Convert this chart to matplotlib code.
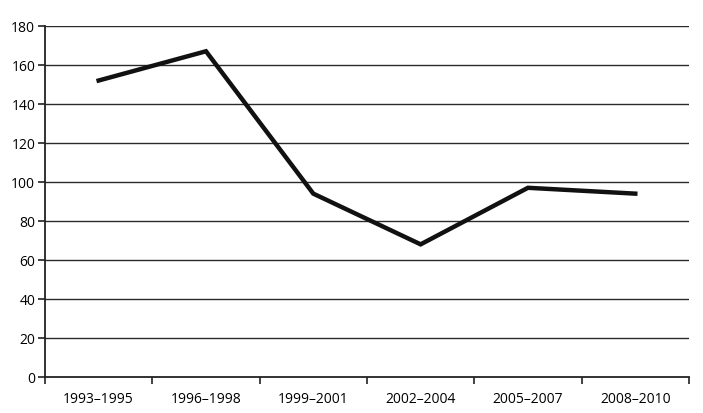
import matplotlib
matplotlib.use("Agg")
import matplotlib.pyplot as plt
from matplotlib.ticker import FixedLocator, NullFormatter

periods = ["1993–1995", "1996–1998", "1999–2001", "2002–2004", "2005–2007", "2008–2010"]
values = [152, 167, 94, 68, 97, 94]
y_ticks = [0, 20, 40, 60, 80, 100, 120, 140, 160, 180]

plt.rcParams["font.family"] = ["Open Sans", "DejaVu Sans"]

fig = plt.figure(figsize=(7.03, 4.14), dpi=100)
ax = fig.add_axes([0.064, 0.087, 0.916, 0.848])

x = list(range(len(periods)))
ax.plot(x, values, color="#111111", lw=3.2, solid_joinstyle="miter", zorder=3)

ax.set_xlim(-0.5, len(periods) - 0.5)
ax.set_ylim(0, 180)
ax.set_yticks(y_ticks)
for t in y_ticks[1:]:
    ax.axhline(t, color="#2a2a2a", lw=1.0, zorder=1)

# category labels centred, tick marks on the boundaries
ax.xaxis.set_major_locator(FixedLocator([i - 0.5 for i in range(len(periods) + 1)]))
ax.xaxis.set_major_formatter(NullFormatter())
ax.xaxis.set_minor_locator(FixedLocator(x))
ax.set_xticklabels(periods, minor=True)
ax.tick_params(axis="x", which="major", length=5, width=1.2, direction="out", color="#222222")
ax.tick_params(axis="x", which="minor", length=0, pad=10, labelsize=10)
ax.tick_params(axis="y", length=5, width=1.2, direction="out", color="#222222", labelsize=10, pad=2)

for s in ["top", "right"]:
    ax.spines[s].set_visible(False)
for s in ["left", "bottom"]:
    ax.spines[s].set_linewidth(1.3)
    ax.spines[s].set_color("#222222")

fig.savefig("out.png", dpi=100)
